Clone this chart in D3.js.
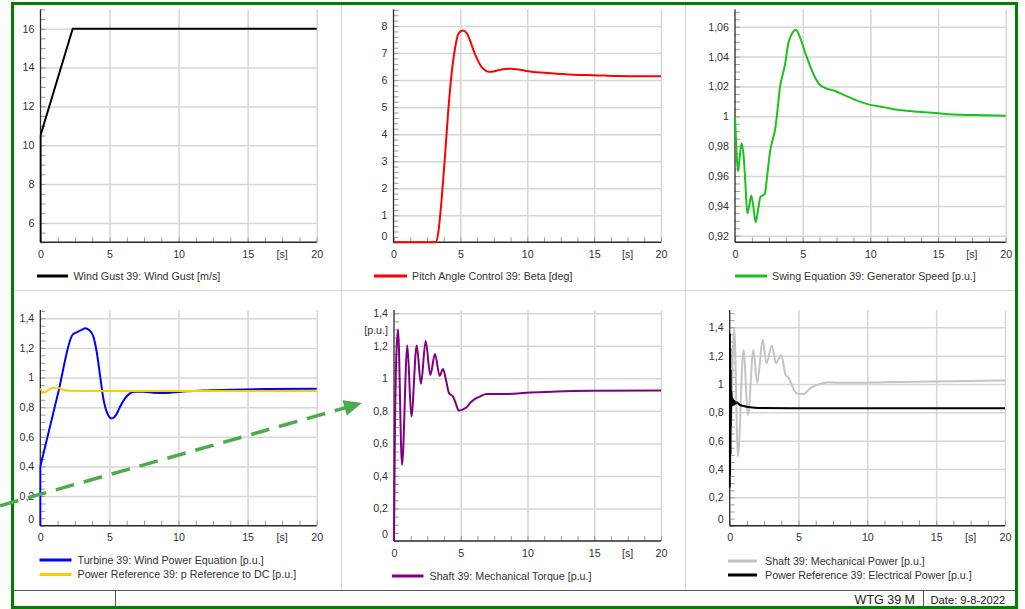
<!DOCTYPE html>
<html>
<head>
<meta charset="utf-8">
<script src="https://cdn.jsdelivr.net/npm/d3@7"></script>
<style>
  body { margin: 0; background: #fff; }
  svg { display: block; }
  text { font-family: "Liberation Sans", Arial, sans-serif; }
</style>
</head>
<body>
<svg id="chart" width="1025" height="609"></svg>
<script>
// ---- time axis -------------------------------------------------------
const timeTicks = [0, 5, 10, 15, 20];
const timeUnitLabel = "[s]";

// ---- y tick labels per plot -----------------------------------------
const gustTicks  = [6, 8, 10, 12, 14, 16];
const pitchTicks = [0, 1, 2, 3, 4, 5, 6, 7, 8];
const speedTicks = [0.92, 0.94, 0.96, 0.98, 1, 1.02, 1.04, 1.06];
const puTicks    = [0, 0.2, 0.4, 0.6, 0.8, 1, 1.2, 1.4];

// ---- simulation traces: [time s, value] -----------------------------
const windGust = [[0, 5], [0, 10.5], [2.33, 16], [20, 16]];

const pitchBeta = [[0, 0], [3.15, 0], [3.35, 0.37], [3.6, 1.6], [3.85, 3.19], [4.1, 4.91],
  [4.35, 6.26], [4.6, 7.18], [4.85, 7.71], [5.17, 7.84], [5.47, 7.74], [5.72, 7.47],
  [5.97, 7.12], [6.22, 6.82], [6.47, 6.57], [6.77, 6.39], [7.09, 6.31], [7.47, 6.32],
  [7.84, 6.37], [8.34, 6.41], [8.84, 6.42], [9.34, 6.39], [9.96, 6.34], [10.96, 6.28],
  [12.2, 6.24], [13.45, 6.2], [14.95, 6.18], [16.7, 6.15], [18.4, 6.14], [20, 6.14]];

const genSpeed = [[0, 1.0], [0.1, 0.978], [0.22, 0.963], [0.35, 0.973], [0.49, 0.982],
  [0.65, 0.972], [0.78, 0.953], [0.91, 0.935], [1.05, 0.94], [1.2, 0.947], [1.35, 0.94],
  [1.53, 0.929], [1.7, 0.937], [1.88, 0.946], [2.05, 0.947], [2.2, 0.948], [2.4, 0.962],
  [2.6, 0.977], [2.8, 0.985], [2.96, 0.991], [3.15, 1.005], [3.33, 1.02], [3.5, 1.027],
  [3.7, 1.035], [3.94, 1.049], [4.19, 1.055], [4.5, 1.058], [4.8, 1.053], [5.17, 1.043],
  [5.54, 1.034], [5.91, 1.026], [6.28, 1.021], [6.65, 1.019], [7.39, 1.017], [8.13, 1.014],
  [8.87, 1.011], [9.85, 1.008], [11.08, 1.006], [12.32, 1.004], [13.55, 1.003],
  [15.02, 1.002], [16.75, 1.001], [18.47, 1.0007], [20, 1.0003]];

const windPower = [[0, 0], [0, 0.4], [1.3, 0.9], [2.34, 1.29], [2.63, 1.305],
  [2.99, 1.322], [3.25, 1.332], [3.55, 1.32], [3.84, 1.276], [4.08, 1.174], [4.32, 1.017],
  [4.56, 0.859], [4.85, 0.758], [5.16, 0.724], [5.48, 0.747], [5.77, 0.803], [6.13, 0.859],
  [6.49, 0.893], [6.85, 0.904], [7.45, 0.904], [8.18, 0.898], [8.9, 0.895], [9.63, 0.9],
  [10.6, 0.907], [12.04, 0.913], [13.97, 0.918], [16.38, 0.922], [20, 0.925]];

const pRefDC = [[0, 0.927], [0.17, 0.904], [0.34, 0.9], [0.58, 0.916], [0.94, 0.931],
  [1.3, 0.929], [1.66, 0.918], [2.15, 0.911], [4.32, 0.909], [20, 0.909]];

const mechTorque = [[0, 0], [0.06, 0.6], [0.16, 1.1], [0.3, 1.3], [0.6, 0.468], [1.0, 1.202],
  [1.3, 0.765], [1.7, 1.202], [2.02, 0.966], [2.37, 1.23], [2.72, 1.02], [3.07, 1.15],
  [3.42, 1.015], [3.67, 1.057], [3.92, 0.98], [4.12, 0.909], [4.42, 0.888], [4.62, 0.847],
  [4.85, 0.802], [5.09, 0.806], [5.42, 0.82], [5.75, 0.853], [6.17, 0.878], [6.44, 0.888],
  [6.94, 0.903], [7.69, 0.903], [8.94, 0.905], [10.19, 0.913], [12.18, 0.919],
  [14.93, 0.923], [20, 0.925]];

const mechPower = [[0, 0.3], [0.15, 0.9], [0.33, 1.393], [0.6, 0.49], [1.0, 1.24],
  [1.33, 0.78], [1.72, 1.24], [2.0, 1.01], [2.4, 1.31], [2.66, 1.146], [3.07, 1.27],
  [3.36, 1.146], [3.75, 1.205], [4.04, 1.07], [4.3, 1.04], [4.5, 0.995], [4.78, 0.94],
  [5.0, 0.93], [5.4, 0.93], [5.6, 0.945], [5.84, 0.969], [6.2, 0.988], [6.56, 1.0],
  [7.2, 1.012], [7.9, 1.008], [8.86, 1.008], [11.28, 1.012], [13.7, 1.016],
  [16.13, 1.02], [20, 1.024]];

const elecPower = [[0, 0.27], [0.015, 1.36], [0.03, 0.35], [0.045, 1.25], [0.06, 0.5],
  [0.075, 1.1], [0.09, 0.7], [0.11, 0.95], [0.15, 0.9], [0.2, 0.85], [0.25, 0.89],
  [0.3, 0.855], [0.35, 0.88], [0.4, 0.86], [0.5, 0.87], [0.7, 0.855], [1.0, 0.845],
  [1.5, 0.835], [2.1, 0.83], [5, 0.829], [20, 0.828]];

// ---- plot layout --------------------------------------------------------
const plots = [
  { left: 40.5, right: 316.7, top: 9.3, bottom: 242.3, yDomain: [5, 17], yTicks: gustTicks, yMinor: 0.5,
    series: [{ data: windGust, color: "#000000", label: "Wind Gust 39: Wind Gust [m/s]", curve: d3.curveLinear }],
    legend: { x0: 37, x1: 68, ys: [276], tx: 73.5 } },
  { left: 393.5, right: 661, top: 9.3, bottom: 242.3, yDomain: [0, 8.62], yTicks: pitchTicks, yMinor: 0.2,
    series: [{ data: pitchBeta, color: "#ff0000", label: "Pitch Angle Control 39: Beta [deg]" }],
    legend: { x0: 374, x1: 407, ys: [276], tx: 412 } },
  { left: 735, right: 1005.7, top: 9.3, bottom: 242.3, yDomain: [0.9156, 1.0717], yTicks: speedTicks, yMinor: 0.005,
    series: [{ data: genSpeed, color: "#1cc01c", label: "Swing Equation 39: Generator Speed [p.u.]" }],
    legend: { x0: 735, x1: 767, ys: [276], tx: 772 } },
  { left: 40.3, right: 316.7, top: 310, bottom: 525.7, yDomain: [0, 1.456], yTicks: puTicks, yMinor: 0.05,
    series: [
      { data: windPower, color: "#0000ff", label: "Turbine 39: Wind Power Equation [p.u.]" },
      { data: pRefDC, color: "#ffcc00", label: "Power Reference 39: p Reference to DC [p.u.]" }],
    legend: { x0: 39.5, x1: 71.5, ys: [560, 574.5], tx: 77.5 } },
  { left: 394, right: 661, top: 310, bottom: 541, yDomain: [0, 1.42], yTicks: puTicks, yMinor: 0.05,
    unit: "[p.u.]",
    series: [{ data: mechTorque, color: "#800080", label: "Shaft 39: Mechanical Torque [p.u.]" }],
    legend: { x0: 392, x1: 423.5, ys: [576], tx: 429.5 } },
  { left: 729.7, right: 1005, top: 310, bottom: 525.7, yDomain: [0, 1.522], yTicks: puTicks, yMinor: 0.05,
    series: [
      { data: mechPower, color: "#c4c4c4", label: "Shaft 39: Mechanical Power [p.u.]" },
      { data: elecPower, color: "#000000", label: "Power Reference 39: Electrical Power [p.u.]" }],
    legend: { x0: 728, x1: 757, ys: [561, 575], tx: 765 } }
];

const svg = d3.select("#chart");
const fontSize = 10.7;
const textColor = "#333333";
const gridColor = "#d6d6d6";
const fmt = d3.formatLocale({ decimal: ",", thousands: ".", grouping: [3], currency: ["", "€"] }).format("~g");

// ---- frame and separators -------------------------------------------
const frame = svg.append("g");
frame.append("line").attr("x1", 341.5).attr("x2", 341.5).attr("y1", 5).attr("y2", 590)
  .attr("stroke", "#d4d4d4").attr("stroke-width", 1);
frame.append("line").attr("x1", 685.5).attr("x2", 685.5).attr("y1", 5).attr("y2", 590)
  .attr("stroke", "#d4d4d4").attr("stroke-width", 1);
frame.append("line").attr("x1", 14).attr("x2", 1015).attr("y1", 290.5).attr("y2", 290.5)
  .attr("stroke", "#d4d4d4").attr("stroke-width", 1);
frame.append("line").attr("x1", 14).attr("x2", 1015).attr("y1", 590.5).attr("y2", 590.5)
  .attr("stroke", "#555").attr("stroke-width", 1);
frame.append("line").attr("x1", 115.5).attr("x2", 115.5).attr("y1", 590).attr("y2", 607)
  .attr("stroke", "#555").attr("stroke-width", 1);
frame.append("line").attr("x1", 923.5).attr("x2", 923.5).attr("y1", 590).attr("y2", 607)
  .attr("stroke", "#555").attr("stroke-width", 1);
frame.append("text").attr("x", 915).attr("y", 604).attr("text-anchor", "end")
  .attr("font-size", 12.5).attr("fill", "#222").text("WTG 39 M");
frame.append("text").attr("x", 930.5).attr("y", 604)
  .attr("font-size", 11.2).attr("fill", "#222").text("Date: 9-8-2022");

// ---- plots -------------------------------------------------------------
const defs = svg.append("defs");

plots.forEach((p, i) => {
  const x = d3.scaleLinear().domain([0, 20]).range([p.left, p.right]);
  const y = d3.scaleLinear().domain(p.yDomain).range([p.bottom, p.top]);
  const w = p.right - p.left, h = p.bottom - p.top;
  const g = svg.append("g");

  // horizontal grid
  g.append("g").attr("transform", `translate(${p.left},0)`)
    .call(d3.axisLeft(y).tickValues(p.yTicks.filter(v => y(v) < p.bottom - 2)).tickSize(-w).tickFormat(""))
    .call(s => s.select(".domain").remove())
    .call(s => s.selectAll("line").attr("stroke", gridColor).attr("stroke-width", 1.5));

  // vertical grid
  g.append("g").attr("transform", `translate(0,${p.bottom})`)
    .call(d3.axisBottom(x).tickValues(timeTicks.filter(v => v > 0)).tickSize(-h).tickFormat(""))
    .call(s => s.select(".domain").remove())
    .call(s => s.selectAll("line").attr("stroke", gridColor).attr("stroke-width", 1.5));

  // minor ticks on the y axis
  const s0 = Math.ceil(p.yDomain[0] / p.yMinor - 1e-6);
  const s1 = Math.floor(p.yDomain[1] / p.yMinor + 1e-6);
  const yMinorVals = d3.range(s0, s1 + 1).map(k => k * p.yMinor);
  g.append("g").attr("transform", `translate(${p.left},0)`)
    .call(d3.axisLeft(y).tickValues(yMinorVals).tickSize(-5).tickFormat(""))
    .call(s => s.select(".domain").remove())
    .call(s => s.selectAll("line").attr("stroke", "#9a9a9a").attr("stroke-width", 1));

  // minor ticks on the time axis
  g.append("g").attr("transform", `translate(0,${p.bottom})`)
    .call(d3.axisBottom(x).tickValues(d3.range(0, 17).map(k => k * 1.25)).tickSize(-5).tickFormat(""))
    .call(s => s.select(".domain").remove())
    .call(s => s.selectAll("line").attr("stroke", "#9a9a9a").attr("stroke-width", 1));

  // axis lines
  g.append("line").attr("x1", p.left).attr("x2", p.left).attr("y1", p.top).attr("y2", p.bottom)
    .attr("stroke", "#2a2a2a").attr("stroke-width", 1.3);
  g.append("line").attr("x1", p.left).attr("x2", p.right).attr("y1", p.bottom).attr("y2", p.bottom)
    .attr("stroke", "#2a2a2a").attr("stroke-width", 1.5);

  // y tick labels
  const yl = g.append("g").attr("transform", `translate(${p.left},0)`)
    .call(d3.axisLeft(y).tickValues(p.yTicks).tickSize(0).tickPadding(6).tickFormat(fmt));
  yl.select(".domain").remove();
  yl.attr("font-family", null).attr("font-size", null);
  yl.selectAll("text").attr("font-size", fontSize).attr("fill", textColor)
    .attr("transform", d => Math.abs(y(d) - p.bottom) < 4 ? "translate(0,-6.5)" : null);

  if (p.unit) {
    g.append("text").attr("x", p.left - 6).attr("y", y(1.4) + 17).attr("dy", "0.32em")
      .attr("text-anchor", "end").attr("font-size", fontSize).attr("fill", textColor).text(p.unit);
  }

  // time tick labels
  const xl = g.append("g").attr("transform", `translate(0,${p.bottom})`)
    .call(d3.axisBottom(x).tickValues(timeTicks).tickSize(0).tickPadding(8).tickFormat(fmt));
  xl.select(".domain").remove();
  xl.attr("font-family", null).attr("font-size", null);
  xl.selectAll("text").attr("font-size", fontSize).attr("fill", textColor);
  g.append("text").attr("x", x(17.5)).attr("y", p.bottom + 8).attr("dy", "0.71em")
    .attr("text-anchor", "middle").attr("font-size", fontSize).attr("fill", textColor).text(timeUnitLabel);

  // traces
  defs.append("clipPath").attr("id", "clip" + i)
    .append("rect").attr("x", p.left - 1).attr("y", p.top).attr("width", w + 2).attr("height", h + 2);
  const lines = g.append("g").attr("clip-path", `url(#clip${i})`);
  p.series.forEach(s => {
    const straight = d3.line().x(d => x(d[0])).y(d => y(d[1]));
    const line = d3.line().x(d => x(d[0])).y(d => y(d[1])).curve(s.curve || d3.curveMonotoneX);
    // leading samples that share one time stamp form a vertical step, drawn straight
    let j = 0;
    while (j + 1 < s.data.length && s.data[j + 1][0] === s.data[j][0]) j++;
    const parts = j > 0 ? [[s.data.slice(0, j + 1), straight], [s.data.slice(j), line]] : [[s.data, line]];
    parts.forEach(([pts, gen]) => {
      lines.append("path").datum(pts).attr("d", gen)
        .attr("fill", "none").attr("stroke", s.color).attr("stroke-width", 2)
        .attr("stroke-linejoin", "round");
    });
  });

  // legend
  p.series.forEach((s, k) => {
    const ly = p.legend.ys[k];
    g.append("line").attr("x1", p.legend.x0).attr("x2", p.legend.x1).attr("y1", ly).attr("y2", ly)
      .attr("stroke", s.color).attr("stroke-width", 3);
    g.append("text").attr("x", p.legend.tx).attr("y", ly).attr("dy", "0.36em")
      .attr("font-size", fontSize).attr("fill", textColor).text(s.label);
  });
});

// ---- green outer frame ------------------------------------------------
svg.append("rect").attr("x", 12.5).attr("y", 3.5).attr("width", 1004).attr("height", 604)
  .attr("fill", "none").attr("stroke", "#008000").attr("stroke-width", 3);

// ---- dashed pointer ----------------------------------------------------
const arrowStart = [0, 505.7], arrowTip = [362, 403];
const ang = Math.atan2(arrowTip[1] - arrowStart[1], arrowTip[0] - arrowStart[0]);
const headLen = 18, headHalf = 8;
const bx = arrowTip[0] - headLen * Math.cos(ang), by = arrowTip[1] - headLen * Math.sin(ang);
svg.append("line").attr("x1", arrowStart[0]).attr("y1", arrowStart[1])
  .attr("x2", bx + 2 * Math.cos(ang)).attr("y2", by + 2 * Math.sin(ang))
  .attr("stroke", "#4aac4a").attr("stroke-width", 3.5).attr("stroke-dasharray", "19,10");
svg.append("path")
  .attr("d", d3.line()([arrowTip,
    [bx - headHalf * Math.sin(ang), by + headHalf * Math.cos(ang)],
    [bx + headHalf * Math.sin(ang), by - headHalf * Math.cos(ang)]]) + "Z")
  .attr("fill", "#4aac4a");
</script>
</body>
</html>
